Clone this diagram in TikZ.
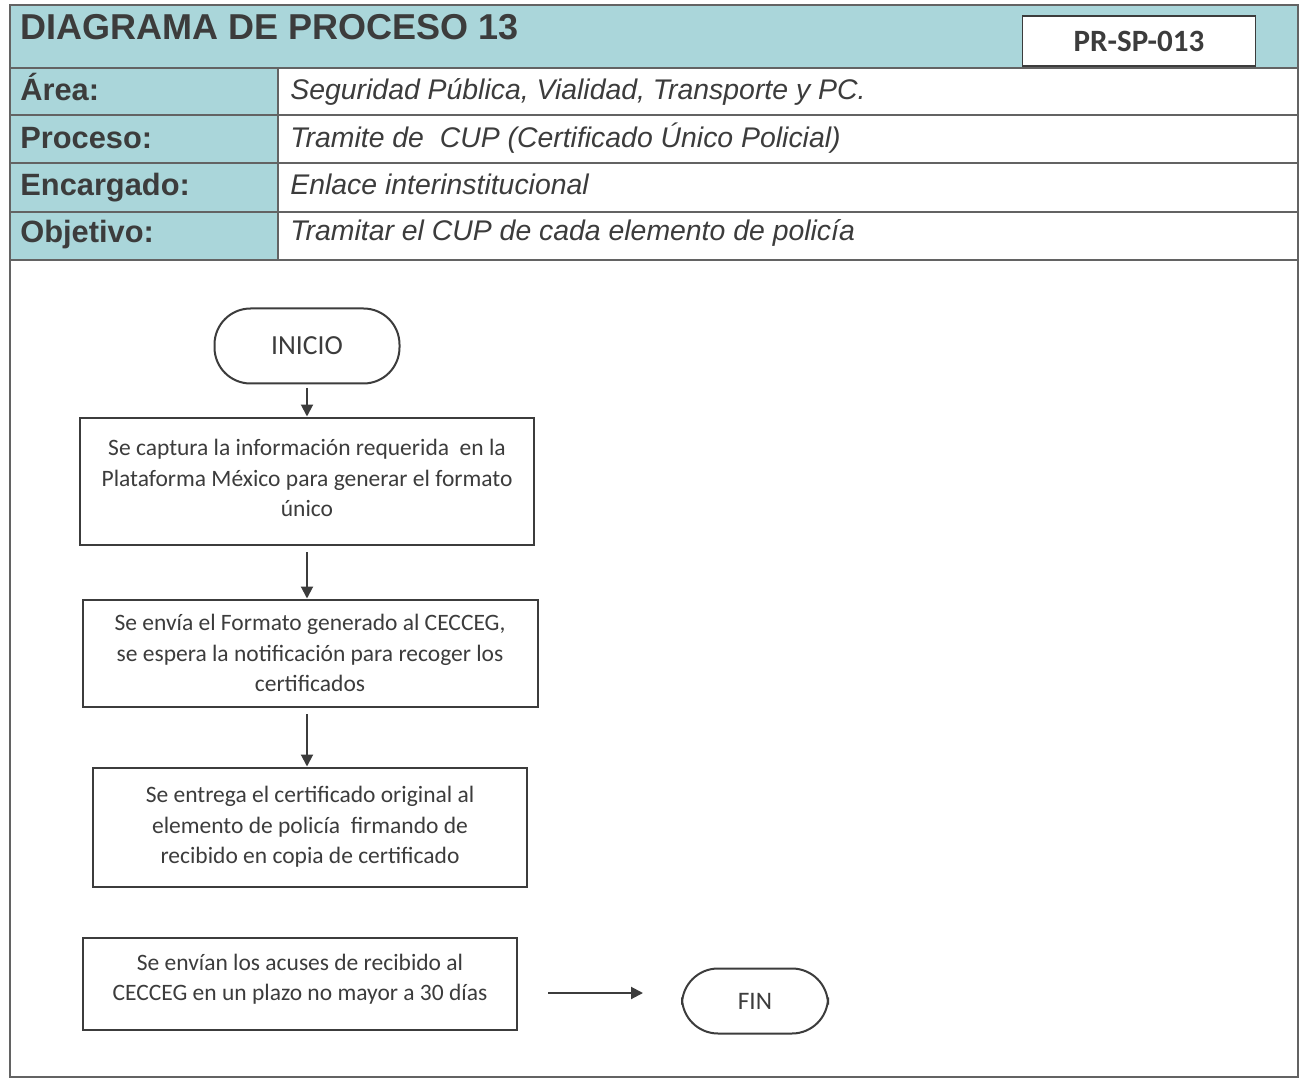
\documentclass[tikz,border=0pt]{standalone}
\usepackage{fontspec}
\setmainfont{Liberation Sans}
\newfontfamily\calibri{Carlito}
\usetikzlibrary{arrows.meta}
\definecolor{headteal}{RGB}{170,214,218}
\definecolor{inkgray}{RGB}{60,60,60}

\begin{document}
\begin{tikzpicture}[x=0.5pt,y=-0.5pt,
  cell/.style={draw=inkgray!80,line width=0.8pt},
  lbl/.style={anchor=base west,inner sep=0pt,text=inkgray,font=\fontsize{15.4}{18}\selectfont\bfseries},
  val/.style={anchor=base west,inner sep=0pt,text=inkgray,font=\fontsize{14.2}{17}\selectfont\itshape},
  stepbox/.style={draw=inkgray,line width=1pt,align=center,text=inkgray,inner sep=0pt,
    font=\calibri\fontsize{11.75}{15.2}\selectfont},
  endbox/.style={draw=inkgray,line width=1pt,rounded corners=18pt,text=inkgray,
    font=\calibri\fontsize{13.8}{16}\selectfont},
  flow/.style={draw=inkgray,line width=1pt,-{Triangle[length=6pt,width=6pt]}}]
\useasboundingbox (0,0) rectangle (1300,1080);
\fill[white] (0,0) rectangle (1300,1080);
% header table
\fill[headteal] (10,5) rectangle (1298,68);
\fill[headteal] (10,68) rectangle (278,260);
\draw[cell] (10,5) rectangle (1298,1077);
\draw[cell] (10,68) -- (1298,68);
\draw[cell] (10,115) -- (1298,115);
\draw[cell] (10,163) -- (1298,163);
\draw[cell] (10,212) -- (1298,212);
\draw[cell] (10,260) -- (1298,260);
\draw[cell] (278,68) -- (278,260);
\node[anchor=base west,inner sep=0pt,text=inkgray,font=\fontsize{18}{20}\selectfont\bfseries] (title) at (20,40) {DIAGRAMA DE PROCESO 13};
\node[draw=inkgray,line width=0.8pt,fill=white,minimum width=116.5pt,minimum height=25pt,
  text=inkgray,font=\calibri\fontsize{15.5}{18}\selectfont\bfseries] (code) at (1139,41) {PR-SP-013};
\node[lbl] (area) at (20,101) {Área:};
\node[lbl] (proc) at (20,149) {Proceso:};
\node[lbl] (enc) at (20,196) {Encargado:};
\node[lbl] (obj) at (20,243) {Objetivo:};
\node[val] (areav) at (290,100) {Seguridad Pública, Vialidad, Transporte y PC.};
\node[val] (procv) at (290,148) {Tramite de\ \ CUP (Certificado Único Policial)};
\node[val] (encv) at (290,195) {Enlace interinstitucional};
\node[val] (objv) at (290,241) {Tramitar el CUP de cada elemento de policía};
% flow
\node[endbox,minimum width=92.5pt,minimum height=37.5pt] (inicio) at (307,346) {INICIO};
\node[stepbox,minimum width=227pt,minimum height=63.5pt] (capt) at (307,481) {};
\node[stepbox,draw=none] (captt) at (307,478)
  {Se captura la información requerida\ \ en la\\Plataforma México para generar el formato\\único};
\node[stepbox,minimum width=227.5pt,minimum height=53.5pt] (envia) at (310,653)
  {Se envía el Formato generado al CECCEG,\\se espera la notificación para recoger los\\certificados};
\node[stepbox,minimum width=217pt,minimum height=59.5pt] (entrega) at (310,827)
  {Se entrega el certificado original al\\elemento de policía\ \ firmando de\\recibido en copia de certificado};
\node[stepbox,minimum width=217pt,minimum height=46pt] (acuses) at (300,984) {};
\node[stepbox,draw=none] (acusest) at (300,979)
  {Se envían los acuses de recibido al\\CECCEG en un plazo no mayor a 30 días};
\node[endbox,minimum width=73pt,minimum height=32.5pt,font=\calibri\fontsize{12.6}{15}\selectfont] (fin) at (755,1001) {FIN};
\coordinate (a1) at (307,388);
\coordinate (a2) at (307,552);
\coordinate (a3) at (307,714);
\coordinate (a4) at (548,993);
\draw[flow] (a1) -- (capt.north -| a1);
\draw[flow] (a2) -- (envia.north -| a2);
\draw[flow] (a3) -- (entrega.north -| a3);
\draw[flow] (a4) -- ++(95,0);
\end{tikzpicture}
\end{document}
